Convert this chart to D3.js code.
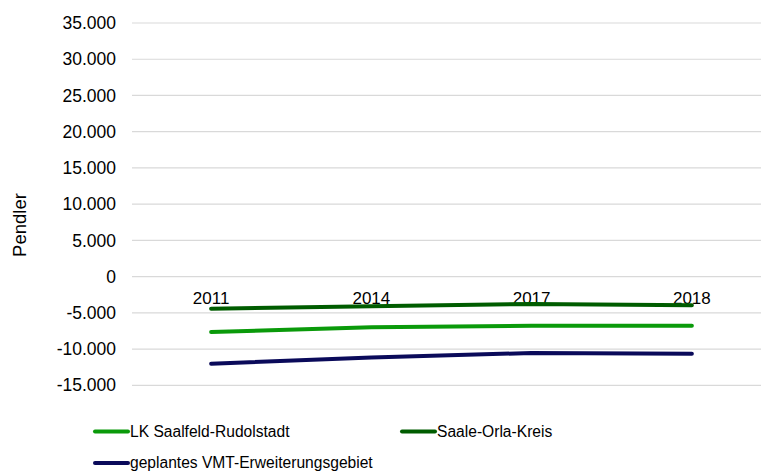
<!DOCTYPE html>
<html>
<head>
<meta charset="utf-8">
<script src="https://cdn.jsdelivr.net/npm/d3@7"></script>
<style>
  body { margin: 0; background: #fff; }
  svg { display: block; font-family: "Liberation Sans", Arial, sans-serif; }
</style>
</head>
<body>
<div id="chart"></div>
<script>
// Pendler chart (line chart, German number format)
const width = 761;
const height = 474;

const years = ["2011", "2014", "2017", "2018"];
const saalfeld = [-7640, -7000, -6770, -6770];
const saaleOrla = [-4420, -4100, -3770, -3960];
const vmt = [-12020, -11150, -10540, -10640];
const yTicks = [-15000, -10000, -5000, 0, 5000, 10000, 15000, 20000, 25000, 30000, 35000];

const series = [
  { name: "LK Saalfeld-Rudolstadt", values: saalfeld, color: "#0a9a0a" },
  { name: "Saale-Orla-Kreis", values: saaleOrla, color: "#005c00" },
  { name: "geplantes VMT-Erweiterungsgebiet", values: vmt, color: "#0a0a5a" }
];

const de = d3.formatLocale({ decimal: ",", thousands: ".", grouping: [3], currency: ["", " €"], minus: "-" });
const fmt = de.format(",.0f");

const svg = d3.select("#chart")
  .append("svg")
  .attr("width", width)
  .attr("height", height);

const x = d3.scaleBand()
  .domain(years)
  .range([131, 772]);

const y = d3.scaleLinear()
  .domain([-15000, 35000])
  .range([385.3, 23]);

// grid lines
svg.append("g")
  .selectAll("line")
  .data(yTicks)
  .join("line")
  .attr("x1", 132)
  .attr("x2", width)
  .attr("y1", d => y(d))
  .attr("y2", d => y(d))
  .attr("stroke", "#d9d9d9")
  .attr("stroke-width", 1.2);

// y tick labels
svg.append("g")
  .selectAll("text")
  .data(yTicks)
  .join("text")
  .attr("x", 116)
  .attr("y", d => y(d))
  .attr("dy", "0.35em")
  .attr("text-anchor", "end")
  .attr("font-size", "17.5px")
  .attr("fill", "#000")
  .text(d => fmt(d));

// y axis title
svg.append("text")
  .attr("transform", `translate(26, 225) rotate(-90)`)
  .attr("text-anchor", "middle")
  .attr("font-size", "18.5px")
  .attr("fill", "#000")
  .text("Pendler");

// category labels (sit just under the zero line)
svg.append("g")
  .selectAll("text")
  .data(years)
  .join("text")
  .attr("x", d => x(d) + x.bandwidth() / 2)
  .attr("y", y(0) + 27)
  .attr("text-anchor", "middle")
  .attr("font-size", "17px")
  .attr("fill", "#000")
  .text(d => d);

const line = d3.line()
  .x((d, i) => x(years[i]) + x.bandwidth() / 2)
  .y(d => y(d));

svg.append("g")
  .selectAll("path")
  .data(series)
  .join("path")
  .attr("d", d => line(d.values))
  .attr("fill", "none")
  .attr("stroke", d => d.color)
  .attr("stroke-width", 4)
  .attr("stroke-linecap", "round")
  .attr("stroke-linejoin", "round");

// legend
const legendPos = [[93, 431.5], [400, 431.5], [93, 463]];
const legend = svg.append("g")
  .selectAll("g")
  .data(series)
  .join("g")
  .attr("transform", (d, i) => `translate(${legendPos[i][0]}, ${legendPos[i][1]})`);

legend.append("line")
  .attr("x1", 2)
  .attr("x2", 35)
  .attr("stroke", d => d.color)
  .attr("stroke-width", 4)
  .attr("stroke-linecap", "round");

legend.append("text")
  .attr("x", 37)
  .attr("dy", "0.35em")
  .attr("font-size", "15.6px")
  .attr("fill", "#000")
  .text(d => d.name);
</script>
</body>
</html>
